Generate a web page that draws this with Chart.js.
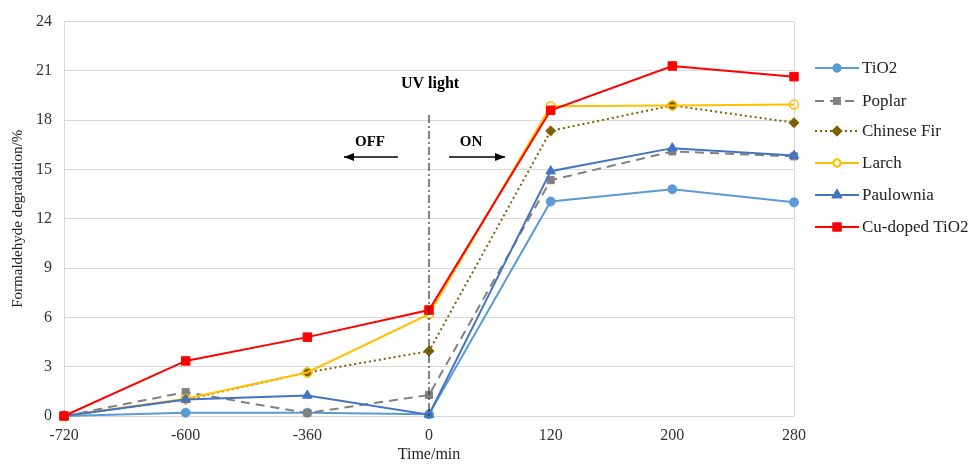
<!DOCTYPE html>
<html>
<head>
<meta charset="utf-8">
<script src="https://cdn.jsdelivr.net/npm/chart.js@4"></script>
<style>
  html, body { margin: 0; padding: 0; background: #fff; }
  #wrap { width: 970px; height: 468px; }
</style>
</head>
<body>
<div id="wrap"><canvas id="chart" width="970" height="468"></canvas></div>
<script>
const times = ['-720', '-600', '-360', '0', '120', '200', '280'];
const tio2 = [0, 0.2, 0.2, 0.1, 13.05, 13.8, 13.0];
const poplar = [0, 1.45, 0.18, 1.28, 14.35, 16.1, 15.8];
const chineseFir = [0, 1.0, 2.65, 3.95, 17.35, 18.9, 17.85];
const larch = [0, 1.05, 2.65, 6.2, 18.85, 18.9, 18.95];
const paulownia = [0, 1.0, 1.25, 0.08, 14.9, 16.3, 15.85];
const cuDoped = [0, 3.35, 4.8, 6.45, 18.6, 21.3, 20.65];
const yTicks = [0, 3, 6, 9, 12, 15, 18, 21, 24];

const serif = '"Liberation Serif", "Times New Roman", serif';

const series = [
    { label: 'TiO2', data: tio2, color: '#5b9bd5', point: 'circle', radius: 4.5, dash: [], fill: true },
    { label: 'Poplar', data: poplar, color: '#808080', point: 'rect', radius: 5, dash: [9, 6], fill: true },
    { label: 'Chinese Fir', data: chineseFir, color: '#7f6000', point: 'rectRot', radius: 5, dash: [2, 3], fill: true },
    { label: 'Larch', data: larch, color: '#ffc000', point: 'circle', radius: 4.5, dash: [], fill: false },
    { label: 'Paulownia', data: paulownia, color: '#4472c4', point: 'triangle', radius: 5.5, dash: [], fill: true },
    { label: 'Cu-doped TiO2', data: cuDoped, color: '#ff0000', point: 'rect', radius: 6, dash: [], fill: true }
];

const overlay = {
    id: 'overlay',
    afterDraw(chart) {
        const ctx = chart.ctx;
        const area = chart.chartArea;
        const x = chart.scales.x.getPixelForValue(3);
        ctx.save();
        // UV light divider
        ctx.strokeStyle = '#333';
        ctx.lineWidth = 1.2;
        ctx.setLineDash([8, 3, 2, 3]);
        ctx.beginPath();
        ctx.moveTo(x, 115);
        ctx.lineTo(x, area.bottom);
        ctx.stroke();
        ctx.setLineDash([]);

        ctx.fillStyle = '#000';
        ctx.textAlign = 'center';
        ctx.textBaseline = 'middle';
        ctx.font = 'bold 16px ' + serif;
        ctx.fillText('UV light', x + 1, 84);
        ctx.font = 'bold 15px ' + serif;
        ctx.fillText('OFF', x - 59, 142);
        ctx.fillText('ON', x + 42, 142);

        const arrow = (x1, x2, y) => {
            ctx.lineWidth = 1.5;
            ctx.strokeStyle = '#000';
            ctx.beginPath();
            ctx.moveTo(x1, y);
            ctx.lineTo(x2, y);
            ctx.stroke();
            const d = x2 > x1 ? 1 : -1;
            ctx.beginPath();
            ctx.moveTo(x2, y);
            ctx.lineTo(x2 - d * 10, y - 4);
            ctx.lineTo(x2 - d * 10, y + 4);
            ctx.closePath();
            ctx.fill();
        };
        arrow(x - 31, x - 85, 157);
        arrow(x + 20, x + 76, 157);

        // legend
        const lx = 815, tx = 862;
        const ys = [68, 101, 131, 163, 195, 227];
        series.forEach((s, i) => {
            const y = ys[i];
            ctx.strokeStyle = s.color;
            ctx.lineWidth = 2;
            ctx.setLineDash(s.dash);
            ctx.beginPath();
            ctx.moveTo(lx, y);
            ctx.lineTo(lx + 44, y);
            ctx.stroke();
            ctx.setLineDash([]);
            Chart.helpers.drawPoint(ctx, {
                pointStyle: s.point, radius: s.radius - 1, borderWidth: 1
            }, lx + 22, y);
            ctx.fillStyle = s.fill ? s.color : '#fff';
            ctx.strokeStyle = s.color;
            ctx.fill();
            ctx.stroke();
            ctx.fillStyle = '#222';
            ctx.textAlign = 'left';
            ctx.font = '17px ' + serif;
            ctx.fillText(s.label, tx, y + 1);
        });
        ctx.restore();
    },
    beforeDatasetsDraw(chart) {
        const ctx = chart.ctx;
        const area = chart.chartArea;
        ctx.save();
        ctx.strokeStyle = '#d9d9d9';
        ctx.lineWidth = 1;
        ctx.beginPath();
        ctx.moveTo(area.right + 0.5, area.top);
        ctx.lineTo(area.right + 0.5, area.bottom);
        ctx.stroke();
        ctx.restore();
    }
};

new Chart(document.getElementById('chart'), {
    type: 'line',
    data: {
        labels: times,
        datasets: series.map((s, i) => ({
            label: s.label,
            data: s.data,
            order: series.length - i,
            borderColor: s.color,
            backgroundColor: s.fill ? s.color : 'rgba(255,255,255,0)',
            borderWidth: 2,
            borderDash: s.dash,
            pointStyle: s.point,
            pointRadius: s.radius,
            pointBorderColor: s.color,
            pointBackgroundColor: s.fill ? s.color : 'rgba(255,255,255,0)',
            pointBorderWidth: s.fill ? 1 : 1.5,
            tension: 0,
            clip: false
        }))
    },
    options: {
        responsive: false,
        animation: false,
        layout: { padding: { top: 12, right: 176, left: 0, bottom: 0 } },
        plugins: {
            legend: { display: false },
            tooltip: { enabled: false }
        },
        scales: {
            x: {
                offset: false,
                grid: { display: false, drawTicks: false },
                border: { display: false },
                ticks: { color: '#333', font: { family: serif, size: 16 }, padding: 10, maxRotation: 0 },
                title: { display: true, text: 'Time/min', color: '#222', font: { family: serif, size: 16 }, padding: { top: 2 } },
                afterFit: s => { s.height = 52; }
            },
            y: {
                min: 0,
                max: 24,
                afterBuildTicks: s => { s.ticks = yTicks.map(v => ({ value: v })); },
                grid: { color: '#d9d9d9', drawTicks: false },
                border: { color: '#d9d9d9' },
                ticks: { color: '#333', font: { family: serif, size: 16 }, padding: 12 },
                title: { display: true, text: 'Formaldehyde degradation/%', color: '#222', font: { family: serif, size: 15 }, padding: { top: 9, bottom: 0 } },
                afterFit: s => { s.width = 64; }
            }
        }
    },
    plugins: [overlay]
});
</script>
</body>
</html>
